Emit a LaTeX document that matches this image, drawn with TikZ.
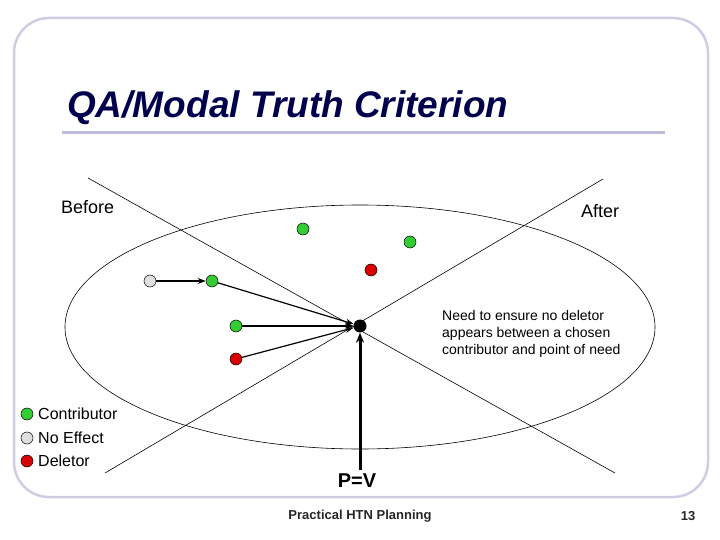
\documentclass[tikz,border=0pt]{standalone}
\usepackage{fontspec}
\setmainfont{Liberation Sans}
\usetikzlibrary{arrows.meta}
\begin{document}
\begin{tikzpicture}[x=1pt,y=-1pt,
  dot/.style={circle,draw=black,line width=0.5pt,minimum size=12pt,inner sep=0pt},
  grn/.style={dot,fill=green!75!black!80},
  red/.style={dot,fill=red!85!black},
  gry/.style={dot,fill=gray!25},
  arr/.style={-{Stealth[length=8pt,width=6pt]},line width=1.2pt},
  txt/.style={inner sep=0pt,font=\fontsize{18}{20}\selectfont},
  leg/.style={inner sep=0pt,font=\fontsize{16}{18}\selectfont}]
\useasboundingbox (0,0) rectangle (720,540);
\draw[draw=gray!70!blue!30,line width=2.5pt,rounded corners=35pt] (14,18) rectangle (708,497);
\node[anchor=west,inner sep=0pt,text=blue!30!black,font=\fontsize{37}{40}\bfseries\itshape\selectfont] (title) at (67,108) {QA/Modal Truth Criterion};
\draw[draw=gray!70!blue!40,line width=3pt] (62,133) -- (665,133);
\draw[line width=0.6pt] (360,327) ellipse [x radius=295,y radius=122];
\draw[line width=0.6pt] (88,178) -- (615,473);
\draw[line width=0.6pt] (603,179) -- (105,473);
\node[txt,anchor=west] (before) at (61,207) {Before};
\node[txt,anchor=west] (after) at (581,211) {After};
\node[grn] (g1) at (303,229) {};
\node[grn] (g2) at (410,242) {};
\node[red] (r1) at (371,270) {};
\node[gry] (n1) at (150,281) {};
\node[grn] (g3) at (212,281) {};
\node[grn] (g4) at (236,326) {};
\node[red] (r2) at (236,359) {};
\node[circle,fill=black,minimum size=13pt,inner sep=0pt] (pn) at (360,326) {};
\coordinate (pv) at (360,470);
\draw[arr] (n1) -- (g3);
\draw[arr] (g3) -- (pn);
\draw[arr] (g4) -- (pn);
\draw[arr] (r2) -- (pn);
\draw[-{Stealth[length=10pt,width=8pt]},line width=3pt] (pv) -- (pn);
\node[inner sep=0pt,font=\fontsize{20}{22}\bfseries\selectfont] (pvl) at (357,481) {P=V};
\node[anchor=north west,align=left,inner sep=0pt,font=\fontsize{14}{17}\selectfont] (note) at (442,310) {Need to ensure no deletor\\appears between a chosen\\contributor and point of need};
\node[grn] (l1) at (27,414) {};
\node[gry] (l2) at (27,438) {};
\node[red] (l3) at (27,461) {};
\node[leg,anchor=west] (t1) at (38,414) {Contributor};
\node[leg,anchor=west] (t2) at (38,438) {No Effect};
\node[leg,anchor=west] (t3) at (38,461) {Deletor};
\node[inner sep=0pt,font=\fontsize{13}{15}\bfseries\selectfont,text=black!85] (foot) at (360,516) {Practical HTN Planning};
\node[inner sep=0pt,font=\fontsize{13}{15}\bfseries\selectfont,text=black!85] (num) at (688,516) {13};
\end{tikzpicture}
\end{document}
